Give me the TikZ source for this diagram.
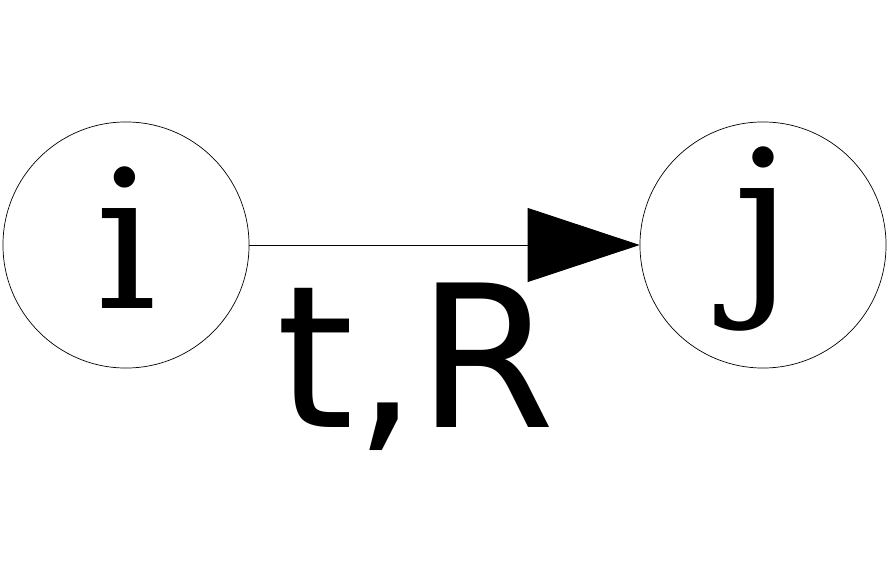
\documentclass[tikz,border=0pt]{standalone}
\usepackage{fontspec}
\newfontfamily\letterfont{DejaVu Serif}
\newfontfamily\edgefont{DejaVu Sans}
\usepackage{tikz}
\usetikzlibrary{arrows.meta}
\tikzset{
  node-state/.style={draw=black,line width=0.5pt,circle,minimum size=6.15cm,inner sep=0pt},
  node-letter/.style={anchor=base,inner sep=0pt,font=\letterfont\fontsize{137pt}{137pt}\selectfont},
  edge-label/.style={anchor=base,inner sep=0pt,font=\edgefont\fontsize{141pt}{141pt}\selectfont},
  arrow/.style={-{Triangle[length=2.8cm,width=1.85cm]},line width=0.6pt,draw=black},
}
\begin{document}
\begin{tikzpicture}[x=0.025cm,y=-0.025cm]
  \useasboundingbox (0,0) rectangle (888,563);
  \node[node-state] (ni) at (126,245) {};
  \node[node-state] (nj) at (763,245) {};
  \node[node-letter] (ti) at (126,309) {i};
  \node[node-letter] (tj) at (763,289) {j};
  \draw[arrow] (ni.east) -- (nj.west);
  \node[edge-label] (lbl) at (416,428) {t,R};
\end{tikzpicture}
\end{document}
